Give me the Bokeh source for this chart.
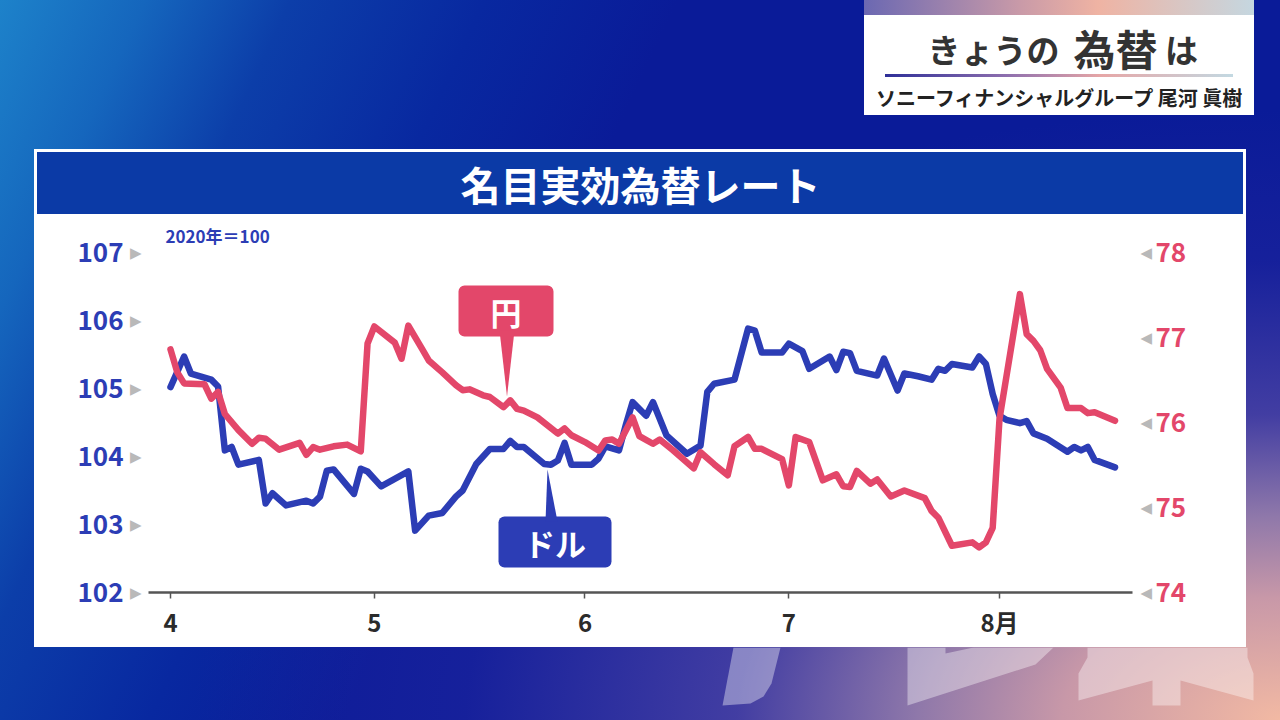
import pandas as pd
from bokeh.plotting import figure
from bokeh.layouts import column
from bokeh.models import (Range1d, LinearAxis, FixedTicker, CustomJSTickFormatter, Label,
                          GlobalInlineStyleSheet)
from bokeh.embed import file_html
from bokeh.resources import INLINE

# ---------------- data ----------------
dollar_dates = [
    "2024-04-01", "2024-04-03", "2024-04-04", "2024-04-07", "2024-04-08", "2024-04-09", "2024-04-10",
    "2024-04-11", "2024-04-14", "2024-04-15", "2024-04-16", "2024-04-18", "2024-04-21", "2024-04-22",
    "2024-04-23", "2024-04-24", "2024-04-25", "2024-04-28", "2024-04-29", "2024-04-30", "2024-05-02",
    "2024-05-06", "2024-05-07", "2024-05-09", "2024-05-11", "2024-05-13", "2024-05-14", "2024-05-16",
    "2024-05-18", "2024-05-20", "2024-05-21", "2024-05-22", "2024-05-23", "2024-05-26", "2024-05-27",
    "2024-05-28", "2024-05-29", "2024-05-30", "2024-06-02", "2024-06-03", "2024-06-04", "2024-06-06",
    "2024-06-07", "2024-06-08", "2024-06-10", "2024-06-11", "2024-06-13", "2024-06-16", "2024-06-18",
    "2024-06-19", "2024-06-20", "2024-06-23", "2024-06-25", "2024-06-26", "2024-06-27", "2024-06-30",
    "2024-07-01", "2024-07-03", "2024-07-04", "2024-07-07", "2024-07-08", "2024-07-09", "2024-07-10",
    "2024-07-11", "2024-07-14", "2024-07-15", "2024-07-17", "2024-07-18", "2024-07-20", "2024-07-22",
    "2024-07-23", "2024-07-24", "2024-07-25", "2024-07-28", "2024-07-29", "2024-07-30", "2024-07-31",
    "2024-08-01", "2024-08-02", "2024-08-04", "2024-08-05", "2024-08-06", "2024-08-08", "2024-08-11",
    "2024-08-12", "2024-08-13", "2024-08-14", "2024-08-15", "2024-08-18",
]
dollar_values = [
    105.02, 105.47, 105.22, 105.13, 105.03, 104.09, 104.14,
    103.88, 103.95, 103.31, 103.46, 103.28, 103.35, 103.31,
    103.41, 103.79, 103.81, 103.45, 103.82, 103.78, 103.56,
    103.78, 102.91, 103.13, 103.17, 103.41, 103.50, 103.89,
    104.11, 104.11, 104.23, 104.14, 104.14, 103.89, 103.88,
    103.94, 104.20, 103.88, 103.88, 103.97, 104.15, 104.09,
    104.46, 104.80, 104.60, 104.80, 104.31, 104.04, 104.16,
    104.95, 105.07, 105.13, 105.88, 105.85, 105.53, 105.53,
    105.66, 105.55, 105.29, 105.47, 105.27, 105.54, 105.52,
    105.26, 105.19, 105.44, 104.97, 105.22, 105.18, 105.13,
    105.29, 105.26, 105.36, 105.31, 105.47, 105.36, 104.92,
    104.60, 104.54, 104.49, 104.52, 104.34, 104.26, 104.07,
    104.14, 104.09, 104.14, 103.95, 103.84,
]
yen_dates = [
    "2024-04-01", "2024-04-02", "2024-04-03", "2024-04-06", "2024-04-07", "2024-04-08", "2024-04-09",
    "2024-04-11", "2024-04-13", "2024-04-14", "2024-04-15", "2024-04-17", "2024-04-20", "2024-04-21",
    "2024-04-22", "2024-04-23", "2024-04-25", "2024-04-27", "2024-04-29", "2024-04-30", "2024-05-01",
    "2024-05-04", "2024-05-05", "2024-05-06", "2024-05-08", "2024-05-09", "2024-05-11", "2024-05-13",
    "2024-05-14", "2024-05-15", "2024-05-17", "2024-05-18", "2024-05-20", "2024-05-21", "2024-05-22",
    "2024-05-23", "2024-05-25", "2024-05-28", "2024-05-29", "2024-05-30", "2024-06-01", "2024-06-03",
    "2024-06-04", "2024-06-05", "2024-06-06", "2024-06-08", "2024-06-09", "2024-06-11", "2024-06-12",
    "2024-06-14", "2024-06-17", "2024-06-18", "2024-06-20", "2024-06-22", "2024-06-23", "2024-06-25",
    "2024-06-26", "2024-06-27", "2024-06-30", "2024-07-01", "2024-07-02", "2024-07-04", "2024-07-06",
    "2024-07-08", "2024-07-09", "2024-07-10", "2024-07-11", "2024-07-13", "2024-07-14", "2024-07-16",
    "2024-07-18", "2024-07-21", "2024-07-22", "2024-07-23", "2024-07-25", "2024-07-28", "2024-07-29",
    "2024-07-30", "2024-07-31", "2024-08-01", "2024-08-04", "2024-08-05", "2024-08-06", "2024-08-07",
    "2024-08-08", "2024-08-10", "2024-08-11", "2024-08-13", "2024-08-14", "2024-08-15", "2024-08-18",
]
yen_values = [
    76.86, 76.59, 76.46, 76.45, 76.28, 76.36, 76.10,
    75.91, 75.75, 75.82, 75.81, 75.68, 75.76, 75.62,
    75.71, 75.68, 75.72, 75.74, 75.66, 76.93, 77.13,
    76.94, 76.75, 77.14, 76.87, 76.73, 76.59, 76.44,
    76.38, 76.39, 76.32, 76.30, 76.18, 76.26, 76.16,
    76.14, 76.06, 75.87, 75.93, 75.85, 75.77, 75.67,
    75.79, 75.80, 75.75, 76.06, 75.84, 75.75, 75.80,
    75.67, 75.46, 75.65, 75.51, 75.38, 75.72, 75.83,
    75.69, 75.69, 75.57, 75.26, 75.83, 75.77, 75.32,
    75.39, 75.25, 75.24, 75.43, 75.28, 75.33, 75.13,
    75.20, 75.11, 74.96, 74.88, 74.55, 74.59, 74.53,
    74.59, 74.76, 76.04, 77.51, 77.04, 76.96, 76.85,
    76.63, 76.41, 76.17, 76.17, 76.11, 76.12, 76.02,
]
month_ticks = ["2024-04-01", "2024-05-01", "2024-06-01", "2024-07-01", "2024-08-01"]
left_ticks = [102, 103, 104, 105, 106, 107]
right_ticks = [74, 75, 76, 77, 78]

title_text = "名目実効為替レート"
base_note = "2020年＝100"
corner_title = ["きょうの", "為替", "は"]
corner_sub = "ソニーフィナンシャルグループ 尾河 眞樹"

# ---------------- geometry helpers (page pixel -> data) ----------------
W = 1280
EPOCH = pd.Timestamp("1970-01-01")
DAY_MS = 86400000.0
PX_PER_DAY = 6.795
APR1_MS = (pd.Timestamp("2024-04-01") - EPOCH) / pd.Timedelta(milliseconds=1)


def X(px):
    return APR1_MS + (px - 170.0) / PX_PER_DAY * DAY_MS


def Y(py):
    return 102.0 + (592.0 - py) / 68.0


def ms(s):
    return (pd.Timestamp(s) - EPOCH) / pd.Timedelta(milliseconds=1)


FONT = "Noto Sans CJK JP"
BLUE = "#2c3db5"
RED = "#e3476a"


def clean(fig):
    fig.border_fill_alpha = 0
    fig.background_fill_alpha = 0
    fig.outline_line_color = None
    fig.grid.visible = False
    try:
        fig.frame_align = False
    except Exception:
        pass


def lab(fig, text, x, y, size, color, align="center", style="bold"):
    fig.add_layout(Label(x=x, y=y, text=text, text_align=align, text_baseline="middle",
                         text_font=FONT, text_font_style=style, text_font_size=size,
                         text_color=color))


# ---------------- top strip: corner box + header title ----------------
top = figure(width=W, height=214, x_range=Range1d(0, W), y_range=Range1d(214, 0),
             x_axis_location=None, y_axis_location=None, output_backend="svg",
             toolbar_location=None, min_border=0)
clean(top)
lab(top, corner_title[0], 993, 48, "33px", "#333333")
lab(top, corner_title[1], 1115, 47, "42px", "#333333")
lab(top, corner_title[2], 1181, 48, "33px", "#333333")
lab(top, corner_sub, 1060, 97, "20px", "#222222")
lab(top, title_text, 640, 183, "40px", "white")

# ---------------- chart ----------------
p = figure(
    width=W, height=433,
    x_range=Range1d(X(148), X(1132)),
    y_range=Range1d(102, 107 + 30 / 68),
    x_axis_location=None, y_axis_location=None,
    output_backend="svg", toolbar_location=None,
    min_border_left=148, min_border_right=148,
    min_border_top=8, min_border_bottom=55,
)
p.extra_y_ranges = {"yen": Range1d(74, 78 + 30 / 85)}
clean(p)

xaxis = LinearAxis(
    ticker=FixedTicker(ticks=[ms(t) for t in month_ticks]),
    formatter=CustomJSTickFormatter(code="""
        const d = new Date(tick); const m = d.getUTCMonth() + 1;
        return m == 8 ? m + '月' : String(m);"""),
    axis_line_color="#555555", axis_line_width=2.5,
    major_tick_line_color="#555555", major_tick_line_width=1.5,
    major_tick_in=0, major_tick_out=6, minor_tick_line_color=None,
    major_label_standoff=5,
    major_label_text_font=FONT, major_label_text_font_style="bold",
    major_label_text_font_size="24px", major_label_text_color="#2b2b2b",
)
p.add_layout(xaxis, "below")

tri_common = dict(
    axis_line_color=None, major_tick_line_color=None, minor_tick_line_color=None,
    major_tick_in=0, major_tick_out=0,
    major_label_text_font="DejaVu Sans", major_label_text_font_size="15px",
    major_label_text_color="#b9b9b9",
)
num_common = dict(
    axis_line_color=None, major_tick_line_color=None, minor_tick_line_color=None,
    major_tick_in=0, major_tick_out=0,
    major_label_text_font=FONT, major_label_text_font_style="bold",
    major_label_text_font_size="26px",
)

left_tri = LinearAxis(ticker=FixedTicker(ticks=left_ticks),
                      formatter=CustomJSTickFormatter(code="return '▶';"),
                      major_label_standoff=7, **tri_common)
p.add_layout(left_tri, "left")
left_num = LinearAxis(ticker=FixedTicker(ticks=left_ticks), major_label_standoff=3,
                      major_label_text_color=BLUE, **num_common)
p.add_layout(left_num, "left")

right_tri = LinearAxis(y_range_name="yen", ticker=FixedTicker(ticks=right_ticks),
                       formatter=CustomJSTickFormatter(code="return '◀';"),
                       major_label_standoff=8, **tri_common)
p.add_layout(right_tri, "right")
right_num = LinearAxis(y_range_name="yen", ticker=FixedTicker(ticks=right_ticks), major_label_standoff=0,
                       major_label_text_color=RED, **num_common)
p.add_layout(right_num, "right")

p.line(pd.to_datetime(dollar_dates), dollar_values, line_color=BLUE, line_width=6.5,
       line_join="round", line_cap="round")
p.line(pd.to_datetime(yen_dates), yen_values, line_color=RED, line_width=6.5,
       line_join="round", line_cap="round", y_range_name="yen")

# callouts
p.quad(left=[X(458)], right=[X(553)], top=[Y(285)], bottom=[Y(336)],
       fill_color=RED, line_color=None, border_radius=6)
p.patch(x=[X(499), X(514), X(506.5)], y=[Y(330), Y(330), Y(396)], fill_color=RED, line_color=None)
p.quad(left=[X(498)], right=[X(611)], top=[Y(516)], bottom=[Y(567)],
       fill_color=BLUE, line_color=None, border_radius=6)
p.patch(x=[X(545), X(557), X(547)], y=[Y(521), Y(521), Y(469)], fill_color=BLUE, line_color=None)

lab(p, "円", X(505.5), Y(311), "31px", "white")
lab(p, "ドル", X(554.5), Y(542), "31px", "white")
lab(p, base_note, X(165), Y(235), "17px", BLUE, align="left")

# ---------------- bottom strip: faint station logo peeking below the panel ----------------
bot = figure(width=W, height=73, x_range=Range1d(0, W), y_range=Range1d(720, 647),
             x_axis_location=None, y_axis_location=None, output_backend="svg",
             toolbar_location=None, min_border=0)
clean(bot)
logo_shapes = [
    ([733, 780, 771, 763, 750, 722], [647, 647, 683, 696, 703, 705]),
    ([907, 945, 945, 973, 1053, 1035, 907], [647, 647, 653, 647, 647, 664, 705]),
    ([1087, 1247, 1247, 1253, 1253, 1180, 1180, 1152, 1152, 1078, 1078, 1087],
     [647, 647, 657, 673, 700, 680, 705, 705, 680, 700, 673, 657]),
]
for xs, ys in logo_shapes:
    bot.patch(xs, ys, fill_color="white", fill_alpha=0.38, line_color=None)

# ---------------- page background (decoration only) ----------------
bg_layers = [
    "linear-gradient(90deg,#2e2f98 0%,#8e6fae 35%,#e6a6a6 62%,#c3d9e2 100%) 885px 74px / 348px 3px no-repeat",
    "linear-gradient(#0b3aa6,#0b3aa6) 37px 152px / 1206px 62px no-repeat",
    "linear-gradient(#ffffff,#ffffff) 34px 149px / 1212px 498px no-repeat",
    "linear-gradient(#ffffff,#ffffff) 864px 15px / 390px 100px no-repeat",
    "linear-gradient(90deg,#6b68b2 0%,#c99aa8 40%,#efb3a3 60%,#c5d7e0 100%) 864px 0px / 390px 15px no-repeat",
    "radial-gradient(ellipse farthest-corner at 100% 100%, #f2b9a3 0%, #c898a8 12%, #8f78aa 20%, rgba(80,70,165,0.8) 30%, rgba(40,40,160,0.4) 45%, rgba(10,27,152,0) 60%)",
    "linear-gradient(115deg,#1d82ca 0%,#1566bd 9%,#0c3ea9 18%,#0828a0 30%,#0a1b98 42%,#0a1b98 100%)",
]

page = column(top, p, bot, spacing=0)
page.styles = {"background": ", ".join(bg_layers)}
page.stylesheets = [GlobalInlineStyleSheet(css="html, body { margin: 0; padding: 0; overflow: hidden; }")]

open("out.html", "w").write(file_html(page, INLINE))
